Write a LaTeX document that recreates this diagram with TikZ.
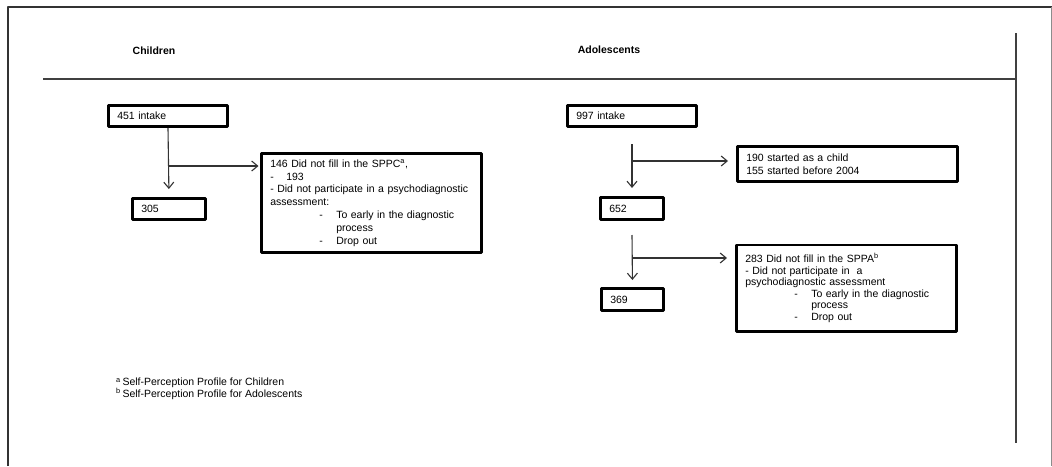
\documentclass[tikz,border=0pt]{standalone}
\usepackage{fontspec}
\setmainfont{Liberation Sans}
\usepackage{tikz}
\usetikzlibrary{arrows.meta,calc}

\newcommand{\flowfont}{\fontsize{10.5}{12.9}\selectfont}
\newcommand{\dashline}[1]{\makebox[66pt][l]{\hspace*{49pt}-}#1}

\begin{document}
\begin{tikzpicture}[x=1pt,y=-1pt,>={Straight Barb[length=6pt,width=10pt]},line join=round,
  box/.style={draw,line width=2.6pt,inner xsep=9pt,inner ysep=0pt,align=left,font=\flowfont},
  flow/.style={->,line width=1.1pt,black!80},
  rule/.style={line width=2pt,black!75}]
  \useasboundingbox (0,0) rectangle (1052,466);
  % page frame
  \draw[line width=2pt,black!80] (7.5,466) -- (7.5,7) -- (1052,7);
  \draw[line width=0.7pt,black!45] (1051,7) -- (1051,466);
  \draw[rule] (43,79) -- (1016,79);
  \draw[rule,line width=2.4pt] (1016,33) -- (1016,443);
  \node[font=\flowfont\bfseries] (hdC) at (154,51) {Children};
  \node[font=\flowfont\bfseries] (hdA) at (609,50) {Adolescents};
  % children
  \node[box,text width=101.4pt,minimum height=21.4pt] (intakeC) at (168,116) {451 intake};
  \node[box,text width=55.4pt,minimum height=21.4pt] (n305) at (169,209) {305};
  \node[box,text width=202.4pt,minimum height=99.4pt] (excC) at (371.5,203) {%
    146 Did not fill in the SPPC\textsuperscript{a},\\
    \makebox[16pt][l]{-}193\\
    - Did not participate in a psychodiagnostic\\
    assessment:\\
    \dashline{To early in the diagnostic}\\
    \hspace*{66pt}process\\
    \dashline{Drop out}};
  \coordinate (brC) at (169,166);
  \draw[flow,shorten >=8pt] (intakeC.south) -- (n305.north);
  \draw[flow,shorten >=1.5pt] (brC) -- (brC -| excC.west);
  % adolescents
  \node[box,text width=111.4pt,minimum height=21.4pt] (intakeA) at (632,116) {997 intake};
  \node[box,text width=202.4pt,minimum height=35.4pt,font=\fontsize{10.5}{13.5}\selectfont] (excA1) at (847.5,164) {%
    190 started as a child\\
    155 started before 2004};
  \node[box,text width=45.4pt,minimum height=22.4pt] (n652) at (632,208.5) {652};
  \node[box,text width=44.4pt,minimum height=22.4pt] (n369) at (632.5,299.5) {369};
  \node[box,text width=202.4pt,minimum height=86.4pt,font=\fontsize{10.5}{11.6}\selectfont] (excA2) at (846.5,288) {%
    283 Did not fill in the SPPA\textsuperscript{b}\\
    - Did not participate in\ \ a\\
    psychodiagnostic assessment\\
    \dashline{To early in the diagnostic}\\
    \hspace*{66pt}process\\
    \dashline{Drop out}};
  \coordinate (topA1) at (632,144);
  \coordinate (brA1) at (632,161);
  \coordinate (topA2) at (632,235);
  \coordinate (brA2) at (632,258);
  \draw[flow,shorten >=8pt] (topA1) -- (n652.north);
  \draw[flow,shorten >=8pt] (brA1) -- (brA1 -| excA1.west);
  \draw[flow,shorten >=7pt] (topA2) -- (n369.north);
  \draw[flow,shorten >=8pt] (brA2) -- (brA2 -| excA2.west);
  % footnotes
  \node[font=\fontsize{10.5}{11.8}\selectfont,anchor=west,align=left,inner sep=0pt] (notes) at (116,389) {%
    \textsuperscript{a}\,Self-Perception Profile for Children\\
    \textsuperscript{b}\,Self-Perception Profile for Adolescents};
\end{tikzpicture}
\end{document}
